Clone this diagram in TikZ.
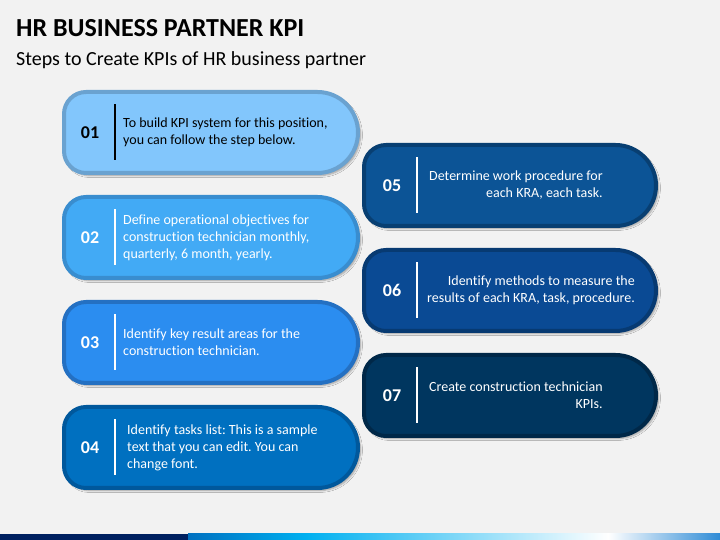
\documentclass[tikz,border=0pt]{standalone}
\usepackage{fontspec}
\setmainfont{Carlito}[Ligatures={NoCommon}]
\frenchspacing
\usetikzlibrary{shadows.blur}
\definecolor{bg}{HTML}{F2F2F2}
\definecolor{fA}{HTML}{82C6FC}\definecolor{bA}{HTML}{6AA2D0}
\definecolor{fB}{HTML}{42AAF5}\definecolor{bB}{HTML}{398DCF}
\definecolor{fC}{HTML}{2B8DF0}\definecolor{bC}{HTML}{2470C2}
\definecolor{fD}{HTML}{0070C0}\definecolor{bD}{HTML}{00589C}
\definecolor{fE}{HTML}{0C5496}\definecolor{bE}{HTML}{083F72}
\definecolor{fF}{HTML}{0A4A94}\definecolor{bF}{HTML}{073A72}
\definecolor{fG}{HTML}{00365F}\definecolor{bG}{HTML}{002848}
\definecolor{navy}{HTML}{002060}
\definecolor{midblue}{HTML}{0070C0}
\definecolor{cyan}{HTML}{00B0F0}
\definecolor{endblue}{HTML}{2E8BD6}
\tikzset{
  cardshadow/.style={blur shadow={shadow xshift=2.5pt, shadow yshift=-2.5pt, shadow blur steps=6, shadow opacity=35}},
  cardpath/.style={line width=4pt, cardshadow},
  numtxt/.style={font=\bfseries\fontsize{18}{20}\selectfont, anchor=center, inner sep=0pt},
  bodytxt/.style={font=\fontsize{14}{17}\selectfont, align=left, anchor=west, inner sep=0pt},
  bodytxtr/.style={font=\fontsize{14}{17}\selectfont, align=right, anchor=west, inner sep=0pt},
  divider/.style={line width=2pt},
}
% #1 x0, #2 top (screen), #3 x1, #4 bottom (screen), #5 fill, #6 border
\newcommand\kcard[6]{%
  \draw[cardpath, draw=#6, fill=#5]
    (#1,{540-#2-22}) arc[start angle=180, end angle=90, radius=22pt]
    -- ({#3-(#4-#2)/2},{540-#2}) arc[start angle=90, end angle=-90, radius={(#4-#2)/2*1pt}]
    -- ({#1+22},{540-#4}) arc[start angle=270, end angle=180, radius=22pt]
    -- cycle;}
\begin{document}
\begin{tikzpicture}[x=1pt,y=1pt]
\useasboundingbox (0,0) rectangle (720,540);
\fill[bg] (0,0) rectangle (720,540);
% title
\node[anchor=base west, inner sep=0pt, font=\bfseries\fontsize{26}{30}\selectfont] (title) at (16,503) {HR BUSINESS PARTNER KPI};
\node[anchor=base west, inner sep=0pt, font=\fontsize{20}{24}\selectfont] (subtitle) at (16,474.5) {Steps to Create KPIs of HR business partner};
% left cards
\kcard{64}{92}{358}{173}{fA}{bA}
\kcard{64}{197}{358}{278}{fB}{bB}
\kcard{64}{302}{358}{383}{fC}{bC}
\kcard{64}{407}{358}{488}{fD}{bD}
% right cards
\kcard{364}{145}{656}{226}{fE}{bE}
\kcard{364}{250}{656}{331}{fF}{bF}
\kcard{364}{355}{656}{436}{fG}{bG}
% card 01
\node[numtxt, text=black] (n1) at (90,{540-132.5}) {01};
\draw[divider, black] (115,{540-132.5+28}) -- (115,{540-132.5-28});
\node[bodytxt, text=black] (t1) at (123,{540-132.5}) {To build KPI system for this position,\\you can follow the step below.};
% card 02
\node[numtxt, text=white] (n2) at (90,{540-237.5}) {02};
\draw[divider, white] (115,{540-237.5+28}) -- (115,{540-237.5-28});
\node[bodytxt, text=white] (t2) at (123,{540-237.5}) {Define operational objectives for\\construction technician monthly,\\quarterly, 6 month, yearly.};
% card 03
\node[numtxt, text=white] (n3) at (90,{540-342.5}) {03};
\draw[divider, white] (115,{540-342.5+28}) -- (115,{540-342.5-28});
\node[bodytxt, text=white] (t3) at (123,{540-342.5}) {Identify key result areas for the\\construction technician.};
% card 04
\node[numtxt, text=white] (n4) at (90,{540-447.5}) {04};
\draw[divider, white] (115,{540-447.5+28}) -- (115,{540-447.5-28});
\node[bodytxt, text=white] (t4) at (127,{540-447.5}) {Identify tasks list: This is a sample\\text that you can edit. You can\\change font.};
% card 05
\node[numtxt, text=white] (n5) at (392,{540-185.5}) {05};
\draw[divider, white] (417,{540-185.5+28}) -- (417,{540-185.5-28});
\node[bodytxtr, text=white] (t5) at (429,{540-185.5}) {Determine work procedure for\\each KRA, each task.};
% card 06
\node[numtxt, text=white] (n6) at (392,{540-290.5}) {06};
\draw[divider, white] (417,{540-290.5+28}) -- (417,{540-290.5-28});
\node[bodytxtr, text=white] (t6) at (427,{540-290.5}) {Identify methods to measure the\\results of each KRA, task, procedure.};
% card 07
\node[numtxt, text=white] (n7) at (392,{540-395.5}) {07};
\draw[divider, white] (417,{540-395.5+28}) -- (417,{540-395.5-28});
\node[bodytxtr, text=white] (t7) at (429,{540-395.5}) {Create construction technician\\KPIs.};
% bottom bar
\fill[navy] (0,0) rectangle (188,6);
\shade[left color=midblue, right color=cyan] (188,0) rectangle (306,6);
\shade[left color=cyan, right color=white] (306,0) rectangle (608,6);
\shade[left color=white, right color=endblue] (608,0) rectangle (720,6);
\end{tikzpicture}
\end{document}
